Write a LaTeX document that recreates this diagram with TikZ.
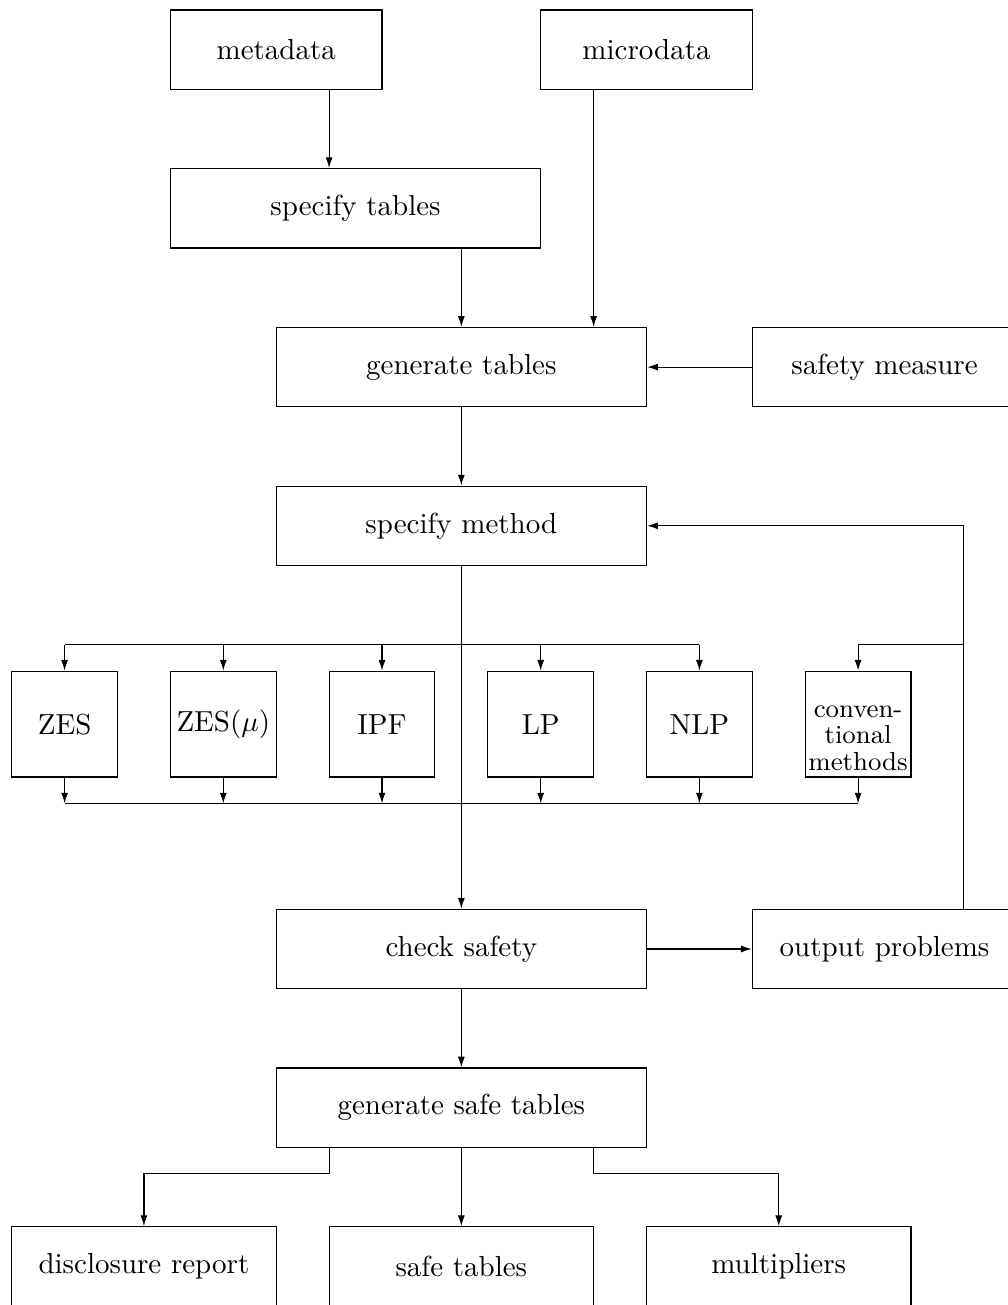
\documentclass[tikz,border=0pt]{standalone}
\usetikzlibrary{arrows.meta}

\begin{document}
\begin{tikzpicture}[x=18.25pt, y=18.25pt, >={Latex[length=3.7pt,width=2.4pt]},
    box/.style 2 args={draw, inner sep=0pt, minimum width=#1*18.25pt, minimum height=#2*18.25pt},
    method/.style={box={2}{2}}]
    \useasboundingbox (-0.221,0.189) rectangle (18.834,-24.48);

    \node[box={4}{1.5}] (meta) at (5,-0.75) {metadata};
    \node[box={4}{1.5}] (micro) at (12,-0.75) {microdata};
    \node[box={7}{1.5}] (spectab) at (6.5,-3.75) {specify tables};
    \node[box={7}{1.5}] (gentab) at (8.5,-6.75) {generate tables};
    \node[box={5}{1.5}] (safety) at (16.5,-6.75) {safety measure};
    \node[box={7}{1.5}] (specmeth) at (8.5,-9.75) {specify method};
    \node[method] (zes) at (1,-13.5) {ZES};
    \node[method] (zesmu) at (4,-13.5) {ZES$(\mu)$};
    \node[method] (ipf) at (7,-13.5) {IPF};
    \node[method] (lp) at (10,-13.5) {LP};
    \node[method] (nlp) at (13,-13.5) {NLP};
    \node[method, align=center, font={\fontsize{9}{9.1}\selectfont}] (conv) at (16,-13.5) {\rule{0pt}{13.6pt}conven-\\tional\\methods};
    \node[box={7}{1.5}] (check) at (8.5,-17.75) {check safety};
    \node[box={5}{1.5}] (output) at (16.5,-17.75) {output problems};
    \node[box={7}{1.5}] (gensafe) at (8.5,-20.75) {generate safe tables};
    \node[box={5}{1.5}] (discl) at (2.5,-23.75) {disclosure report};
    \node[box={5}{1.5}] (safetab) at (8.5,-23.75) {safe tables};
    \node[box={5}{1.5}] (multi) at (14.5,-23.75) {multipliers};

    \coordinate (top) at (0,-12);
    \coordinate (bot) at (0,-15);
    \coordinate (mid) at (0,-22);

    \draw[->] (meta.south) ++(1,0) coordinate (m1) -- (m1 |- spectab.north);
    \draw[->] (spectab.south) ++(2,0) coordinate (s1) -- (s1 |- gentab.north);
    \draw[->] (micro.south) ++(-1,0) coordinate (d1) -- (d1 |- gentab.north);

    \path[->]
    (safety) edge (gentab)
    (gentab) edge (specmeth)
    (specmeth) edge (check)
    (check) edge (output)
    (check) edge (gensafe)
    (gensafe) edge (safetab)
        (zes.north |- top) edge (zes.north)
        (zesmu.north |- top) edge (zesmu.north)
        (ipf.north |- top) edge (ipf.north)
        (lp.north |- top) edge (lp.north)
        (nlp.north |- top) edge (nlp.north)
    (zes.south) edge (zes.south |- bot)
    (zesmu.south) edge (zesmu.south |- bot)
    (ipf.south) edge (ipf.south |- bot)
    (lp.south) edge (lp.south |- bot)
    (nlp.south) edge (nlp.south |- bot)
    (conv.south) edge (conv.south |- bot);

    \draw (zes.north |- top) -- (nlp.north |- top);
    \draw (zes.south |- bot) -- (conv.south |- bot);

    \draw[->] (output.north) ++(1.5,0) coordinate (fb) -- (fb |- specmeth.east) -- (specmeth.east);
    \draw[->] (fb |- top) -| (conv.north);

    \draw[->] (gensafe.south) ++(-2.5,0) coordinate (g1) -- (g1 |- mid) -| (discl.north);
    \draw[->] (gensafe.south) ++(2.5,0) coordinate (g2) -- (g2 |- mid) -| (multi.north);
\end{tikzpicture}
\end{document}
